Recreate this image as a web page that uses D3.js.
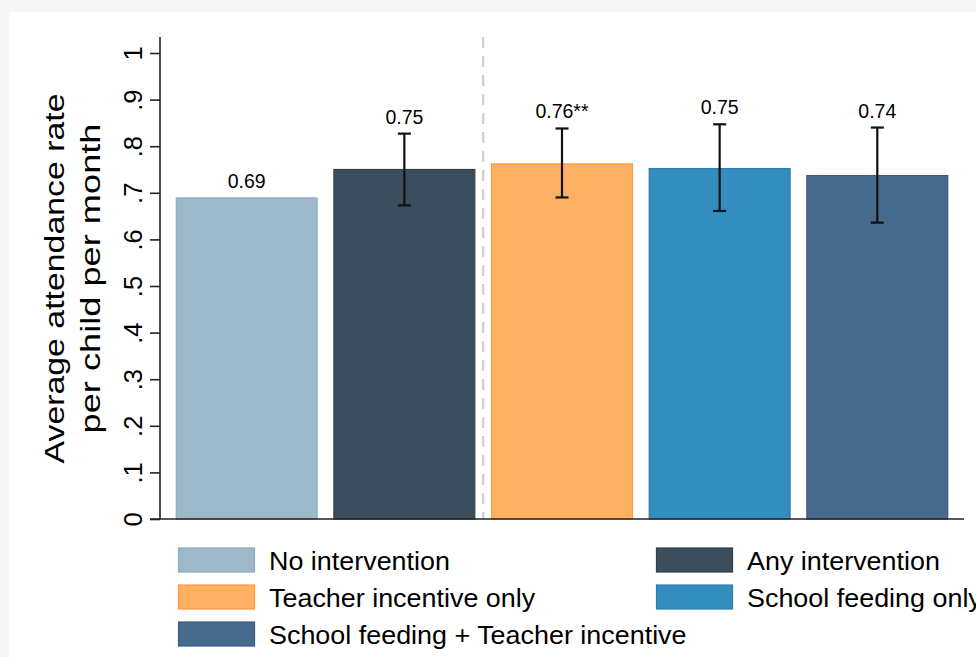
<!DOCTYPE html>
<html>
<head>
<meta charset="utf-8">
<script src="https://cdn.jsdelivr.net/npm/d3@7"></script>
<style>
  html, body { margin: 0; padding: 0; background: #ffffff; }
  svg { display: block; }
  text { font-family: "Liberation Sans", Arial, sans-serif; fill: #000; }
</style>
</head>
<body>
<svg id="chart" width="976" height="657"></svg>
<script>
// ---- data ----
const categories = ["No intervention", "Any intervention", "Teacher incentive only", "School feeding only", "School feeding + Teacher incentive"];
const means = [0.689, 0.750, 0.762, 0.752, 0.737];
const valueLabels = ["0.69", "0.75", "0.76**", "0.75", "0.74"];
const ciLow = [null, 0.673, 0.690, 0.661, 0.636];
const ciHigh = [null, 0.827, 0.838, 0.847, 0.840];
const yTicks = [0, 0.1, 0.2, 0.3, 0.4, 0.5, 0.6, 0.7, 0.8, 0.9, 1];
const yTickLabels = ["0", ".1", ".2", ".3", ".4", ".5", ".6", ".7", ".8", ".9", "1"];
const fills = ["#9db8c9", "#3c4e5e", "#ffb062", "#338dbd", "#476b8d"];
const strokes = ["#8fabbd", "#2e3f4e", "#ff9a3c", "#2a7fb0", "#3a5d80"];
const yTitleLines = ["Average attendance rate", "per child per month"];
const legendOrder = [0, 1, 2, 3, 4];

// ---- layout ----
const svg = d3.select("#chart");
const W = 976, H = 657;
const plot = { left: 160, right: 964, top: 37, bottom: 519 };

svg.append("rect").attr("x", 0).attr("y", 0).attr("width", W).attr("height", H).attr("fill", "#f6f6f6");
svg.append("rect").attr("x", 9).attr("y", 12).attr("width", W - 9).attr("height", H - 12).attr("fill", "#ffffff");

const x = d3.scaleBand().domain(categories).range([plot.left, plot.right]).paddingInner(0.1).paddingOuter(0.1);
const y = d3.scaleLinear().domain([0, 1]).range([519, 53]);

// dashed separator between group 2 and 3
const sepX = (x(categories[1]) + x.bandwidth() + x(categories[2])) / 2;
svg.append("line")
  .attr("x1", sepX).attr("x2", sepX)
  .attr("y1", plot.top).attr("y2", plot.bottom)
  .attr("stroke", "#cfcfcf").attr("stroke-width", 2.2)
  .attr("stroke-dasharray", "11,8");

// bars
svg.selectAll("rect.bar").data(categories).enter().append("rect")
  .attr("class", "bar")
  .attr("x", d => x(d) + 0.5)
  .attr("width", x.bandwidth() - 1)
  .attr("y", (d, i) => y(means[i]))
  .attr("height", (d, i) => y(0) - y(means[i]))
  .attr("fill", (d, i) => fills[i])
  .attr("stroke", (d, i) => strokes[i])
  .attr("stroke-width", 1.2);

// error bars
const eb = svg.append("g");
categories.forEach((c, i) => {
  if (ciLow[i] == null) return;
  const cx = x(c) + x.bandwidth() / 2;
  const g = eb.append("g").attr("stroke", "#111").attr("stroke-width", 2.2);
  g.append("line").attr("x1", cx).attr("x2", cx).attr("y1", y(ciLow[i])).attr("y2", y(ciHigh[i]));
  g.append("line").attr("x1", cx - 6.5).attr("x2", cx + 6.5).attr("y1", y(ciLow[i])).attr("y2", y(ciLow[i]));
  g.append("line").attr("x1", cx - 6.5).attr("x2", cx + 6.5).attr("y1", y(ciHigh[i])).attr("y2", y(ciHigh[i]));
});

// value labels
svg.selectAll("text.val").data(categories).enter().append("text")
  .attr("class", "val")
  .attr("x", d => x(d) + x.bandwidth() / 2)
  .attr("y", (d, i) => (ciHigh[i] != null ? y(ciHigh[i]) : y(means[i])) - 10)
  .attr("text-anchor", "middle")
  .attr("font-size", 19.5)
  .attr("fill", "#111")
  .text((d, i) => valueLabels[i]);

// y axis
const yAxis = d3.axisLeft(y).tickValues(yTicks).tickSize(10).tickFormat((d, i) => yTickLabels[i]);
const ya = svg.append("g").attr("transform", `translate(${plot.left},0)`).call(yAxis);
ya.select(".domain").remove();
ya.append("line").attr("x1", 0).attr("x2", 0).attr("y1", plot.top).attr("y2", plot.bottom)
  .attr("stroke", "#222").attr("stroke-width", 1.6);
ya.selectAll(".tick line").attr("stroke", "#222").attr("stroke-width", 1.6);
ya.selectAll(".tick text")
  .attr("x", null).attr("dy", null)
  .attr("transform", "translate(-18.5,0) rotate(-90)")
  .attr("text-anchor", "middle")
  .attr("font-size", 25.5)
  .attr("font-family", "'Liberation Sans', Arial, sans-serif")
  .attr("fill", "#111");

// x axis line
svg.append("line").attr("x1", plot.left - 10).attr("x2", plot.right)
  .attr("y1", plot.bottom).attr("y2", plot.bottom)
  .attr("stroke", "#222").attr("stroke-width", 1.6);

// y title
const midY = (plot.top + plot.bottom) / 2 + 0.5;
const titleX = [64, 100];
const titleLen = [370, 310];
yTitleLines.forEach((t, i) => {
  svg.append("text")
    .attr("transform", `translate(${titleX[i]},${midY}) rotate(-90)`)
    .attr("text-anchor", "middle")
    .attr("font-size", 27)
    .attr("textLength", titleLen[i])
    .attr("lengthAdjust", "spacingAndGlyphs")
    .text(t);
});

// legend
const legCols = [178, 656];
const legRows = [560, 597, 634];
legendOrder.forEach((ci, k) => {
  const col = k % 2, row = Math.floor(k / 2);
  const lx = legCols[col], ly = legRows[row];
  svg.append("rect")
    .attr("x", lx + 0.5).attr("y", ly - 12).attr("width", 76).attr("height", 24)
    .attr("fill", fills[ci]).attr("stroke", strokes[ci]).attr("stroke-width", 1.2);
  const t = svg.append("text")
    .attr("x", lx + 91).attr("y", ly + 9.5)
    .attr("font-size", 25.5)
    .text(categories[ci]);
  const w = t.node().getComputedTextLength();
  t.attr("textLength", w * 1.055).attr("lengthAdjust", "spacingAndGlyphs");
});
</script>
</body>
</html>
